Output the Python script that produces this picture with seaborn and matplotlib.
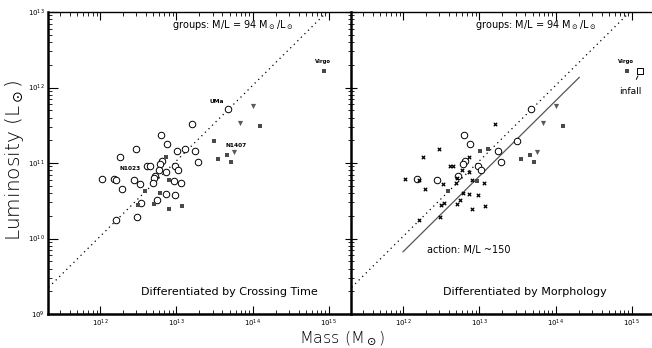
import numpy as np
import pandas as pd
import seaborn as sns
import matplotlib.pyplot as plt

# log10 of group mass and luminosity (solar units)
log_mass = [12.80, 12.88, 12.47, 12.26, 13.01, 13.12, 13.24, 13.28, 12.62, 12.66,
            12.81, 12.79, 12.77, 12.98, 13.02, 12.87, 12.72, 12.71, 12.02, 12.18,
            12.21, 12.45, 12.52, 12.70, 12.97, 13.06, 12.29, 12.87, 12.98, 12.75,
            12.54, 12.49, 12.21, 13.21, 13.68,
            12.87, 12.90, 12.59, 12.78, 12.50, 12.71, 12.91, 13.08, 13.50, 13.54,
            13.66, 13.72, 14.10, 14.94,
            14.00, 13.84, 13.76]
log_lum = [11.37, 11.25, 11.18, 11.08, 11.16, 11.19, 11.16, 11.01, 10.96, 10.96,
           11.03, 10.99, 10.91, 10.96, 10.91, 10.88, 10.83, 10.80, 10.79, 10.79,
           10.77, 10.78, 10.72, 10.73, 10.76, 10.73, 10.66, 10.59, 10.57, 10.51,
           10.47, 10.28, 10.25, 11.51, 11.71,
           11.08, 10.77, 10.63, 10.60, 10.44, 10.46, 10.39, 10.43, 11.29, 11.05,
           11.10, 11.01, 11.49, 12.22,
           11.76, 11.53, 11.14]
# marker class per group: crossing time (left) and morphology (right)
crossing = ["o"] * 35 + ["s"] * 14 + ["v"] * 3
morphology = ["o", "o", "x", "x", "s", "s", "o", "o", "x", "x",
              "o", "o", "x", "o", "o", "x", "o", "x", "x", "o",
              "x", "o", "x", "x", "s", "x", "x", "x", "x", "x",
              "x", "x", "x", "x", "o",
              "x", "x", "s", "x", "x", "x", "x", "x", "o", "s",
              "s", "s", "s", "s",
              "v", "v", "v"]
names = {"Virgo": 48, "UMa": 34, "N1407": 51, "N1023": 21}
virgo_infall = (15.11, 12.22)
ml_groups = 94
ml_action = 150

df = pd.DataFrame({"mass": 10 ** np.array(log_mass), "lum": 10 ** np.array(log_lum),
                   "crossing": crossing, "morph": morphology})

styles = {
    "o": dict(marker="o", s=22, facecolor="white", edgecolor="black", linewidth=0.7),
    "s": dict(marker="s", s=12, color="#4a4a4a", edgecolor="#4a4a4a", linewidth=0),
    "v": dict(marker="v", s=14, color="#5a5a5a", edgecolor="#5a5a5a", linewidth=0),
    "x": dict(marker="x", s=6, color="black", linewidth=0.9),
}

fig = plt.figure(figsize=(6.52, 3.48), dpi=100)
ax1 = fig.add_axes([48 / 652, 34 / 348, 303 / 652, 302 / 348])
ax2 = fig.add_axes([351 / 652, 34 / 348, 303 / 652, 302 / 348])

xlim = (10 ** 11.318, 10 ** 15.29)
mline = np.logspace(11, 16, 50)

for ax, col in [(ax1, "crossing"), (ax2, "morph")]:
    for key in ["o", "s", "v", "x"]:
        sub = df[df[col] == key]
        if len(sub):
            sns.scatterplot(data=sub, x="mass", y="lum", ax=ax, legend=False,
                            zorder=3, **styles[key])
    ax.plot(mline, mline / ml_groups, color="black", ls=(0, (1, 3)), lw=0.9)
    ax.set_xscale("log")
    ax.set_yscale("log")
    ax.set_xlim(*xlim)
    ax.set_ylim(1e9, 1e13)
    ax.set_xlabel("")
    ax.set_ylabel("")
    ax.tick_params(which="both", direction="in", top=True, labelsize=5, pad=2.5)
    ax.tick_params(which="major", length=6, width=0.8)
    ax.tick_params(which="minor", length=3, width=0.6)
    ax.spines["left"].set_linewidth(1.8)
    ax.spines["bottom"].set_linewidth(1.8)
    ax.spines["top"].set_linewidth(1.0)
    ax.spines["right"].set_visible(False)
    ax.text(0.81, 0.957, r"groups: M/L = 94 M$_\odot$/L$_\odot$", transform=ax.transAxes,
            ha="right", va="center", fontsize=7)
    vi = names["Virgo"]
    ax.annotate("Virgo", (df.mass[vi], df.lum[vi]), xytext=(-1, 5),
                textcoords="offset points", ha="center", va="bottom",
                fontsize=3.8, fontweight="bold")

ax1.text(0.891, 0.073, "Differentiated by Crossing Time", transform=ax1.transAxes,
         ha="right", va="center", fontsize=8)
ax2.text(0.845, 0.073, "Differentiated by Morphology", transform=ax2.transAxes,
         ha="right", va="center", fontsize=8)

for name, dx, dy in [("UMa", -8, 4), ("N1407", 1, 3), ("N1023", -3, 6)]:
    i = names[name]
    ax1.annotate(name, (df.mass[i], df.lum[i]), xytext=(dx, dy),
                 textcoords="offset points", ha="center", va="bottom",
                 fontsize=4.2, fontweight="bold")

ax1.tick_params(axis="y", which="major", length=7)
ax2.tick_params(axis="y", which="both", direction="inout", labelleft=False)
ax2.tick_params(axis="y", which="major", length=9)
ax2.tick_params(axis="y", which="minor", length=5)

# action line and the infall point for Virgo
ma = np.logspace(12, 14.31, 20)
ax2.plot(ma, ma / ml_action, color="#555555", lw=0.9)
ax2.text(10 ** 12.32, 10 ** 9.85, "action: M/L ~150", fontsize=7, ha="left", va="center")
ax2.scatter(10 ** virgo_infall[0], 10 ** virgo_infall[1], marker="s", s=16,
            facecolor="white", edgecolor="black", linewidth=0.7, zorder=3)
ax2.annotate("infall", (10 ** virgo_infall[0], 10 ** virgo_infall[1]), xytext=(-7, -15),
             textcoords="offset points", ha="center", va="center", fontsize=6.5,
             arrowprops=dict(arrowstyle="-", lw=0.7, color="black",
                             shrinkA=4, shrinkB=4))

fig.text(15 / 652, 0.54, r"Luminosity (L$_\odot$)", rotation=90, ha="center",
         va="center", fontsize=14.5, fontweight="light")
fig.text(342 / 652, 1 / 348, r"Mass (M$_\odot$)", ha="center", va="bottom",
         fontsize=11.5, fontweight="light")

fig.savefig("out.png", dpi=100)
